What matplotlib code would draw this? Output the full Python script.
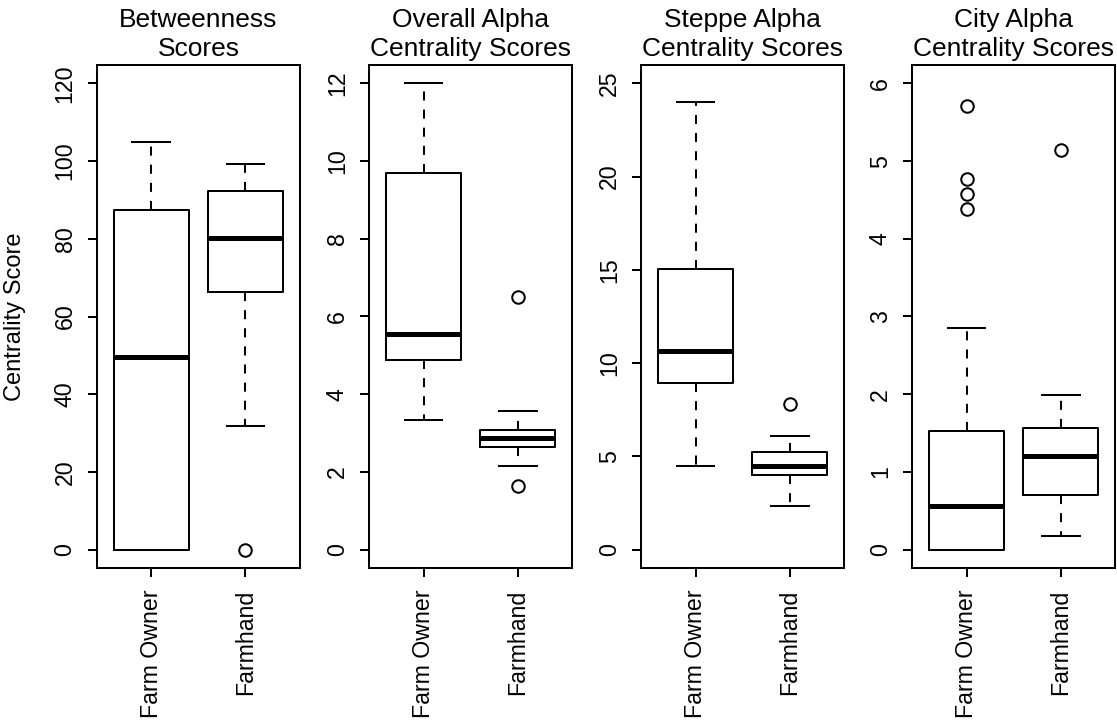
import numpy as np
import matplotlib.pyplot as plt

plt.rcParams['font.family'] = ['Liberation Sans', 'DejaVu Sans']

groups = ["Farm Owner", "Farmhand"]
titles = ["Betweenness\nScores", "Overall Alpha\nCentrality Scores",
          "Steppe Alpha\nCentrality Scores", "City Alpha\nCentrality Scores"]
ytop = [120, 12, 25, 6]
ystep = [20, 2, 5, 1]

# five-number summaries: whisker low, q1, median, q3, whisker high
betweenness_owner = [0.0, 0.0, 49.6, 87.4, 105.0]
betweenness_hand = [31.8, 66.2, 80.3, 92.4, 99.2]
overall_owner = [3.33, 4.875, 5.56, 9.70, 12.0]
overall_hand = [2.145, 2.63, 2.87, 3.07, 3.56]
steppe_owner = [4.47, 8.96, 10.64, 15.02, 24.0]
steppe_hand = [2.34, 3.99, 4.47, 5.24, 6.09]
city_owner = [0.0, 0.0, 0.562, 1.527, 2.853]
city_hand = [0.171, 0.699, 1.201, 1.571, 1.996]

# outliers
betweenness_out = [[], [0.0]]
overall_out = [[], [6.49, 1.63]]
steppe_out = [[], [7.83]]
city_out = [[5.71, 4.764, 4.575, 4.38], [5.14]]

panels = [
    ([betweenness_owner, betweenness_hand], betweenness_out),
    ([overall_owner, overall_hand], overall_out),
    ([steppe_owner, steppe_hand], steppe_out),
    ([city_owner, city_hand], city_out),
]

W, H = 1117, 724
fig = plt.figure(figsize=(W / 100, H / 100), dpi=100)

lefts = [96.7, 369, 641, 912]
lw = 1.45

for i, ((summ, outs), title) in enumerate(zip(panels, titles)):
    ax = fig.add_axes([lefts[i] / W, (H - 568.3) / H, 203.3 / W, (568.3 - 64.7) / H])
    stats = []
    for name, s, o in zip(groups, summ, outs):
        stats.append(dict(label=name, whislo=s[0], q1=s[1], med=s[2],
                          q3=s[3], whishi=s[4], fliers=o))
    ax.bxp(stats, positions=[1, 2], widths=0.8, capwidths=0.4,
           boxprops=dict(color='black', linewidth=lw),
           medianprops=dict(color='black', linewidth=3.6, solid_capstyle='butt'),
           whiskerprops=dict(color='black', linewidth=lw, linestyle=(0, (4.5, 4.5))),
           capprops=dict(color='black', linewidth=lw),
           flierprops=dict(marker='o', markersize=9, markerfacecolor='none',
                           markeredgecolor='black', markeredgewidth=1.45))
    top = ytop[i]
    ticks = np.arange(0, top + ystep[i] / 2, ystep[i])
    ax.set_xlim(0.42, 2.58)
    ax.set_ylim(-0.04 * top, 1.04 * top)
    ax.set_yticks(ticks)
    ax.set_yticklabels([str(int(v)) for v in ticks], rotation=90, va='center')
    ax.set_xticks([1, 2])
    ax.set_xticklabels(groups, rotation=90)
    ax.tick_params(axis='both', length=6.5, width=lw, labelsize=16.7, color='black')
    ax.tick_params(axis='y', pad=8)
    ax.tick_params(axis='x', pad=9)
    for sp in ax.spines.values():
        sp.set_linewidth(lw)
    ax.set_title(title, fontsize=19, pad=6.5, linespacing=1.25)
    if i == 0:
        ax.set_ylabel("Centrality Score", fontsize=17, labelpad=20)

fig.savefig("out.png", dpi=100)
